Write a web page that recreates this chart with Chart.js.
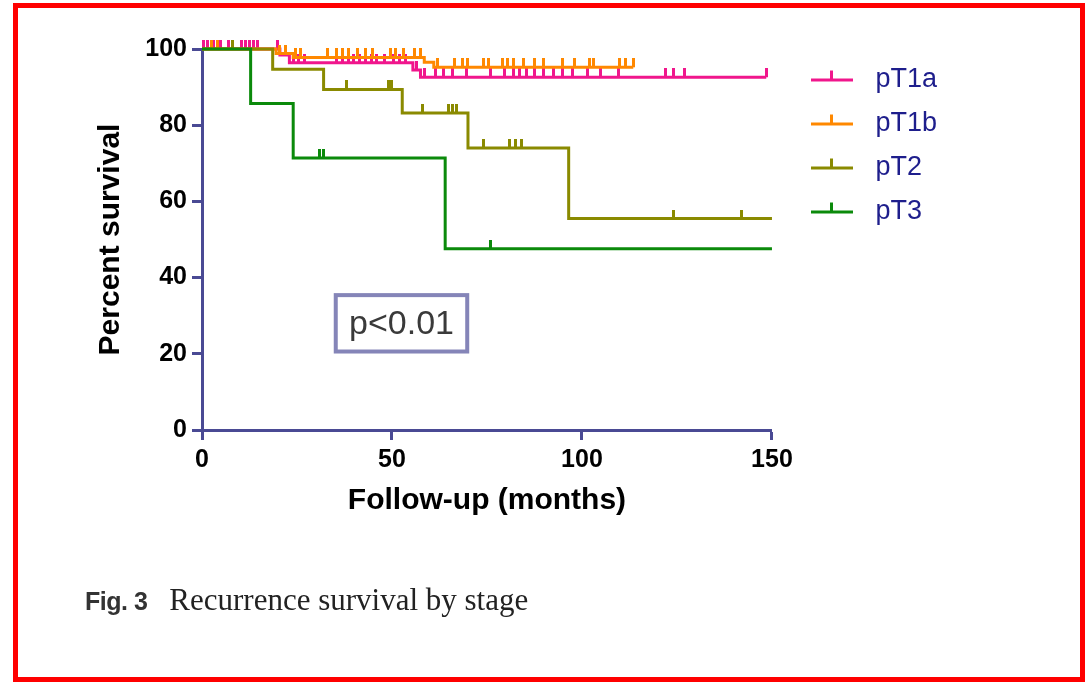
<!DOCTYPE html>
<html>
<head>
<meta charset="utf-8">
<script src="https://cdn.jsdelivr.net/npm/chart.js@4.4.0/dist/chart.umd.min.js"></script>
<style>
  html, body { margin: 0; padding: 0; background: #fff; }
  #frame { position: absolute; left: 13px; top: 3px; width: 1072px; height: 679px; border: 5px solid #ff0000; box-sizing: border-box; }
  #chart { position: absolute; left: 0; top: 0; }
  #caption { position: absolute; left: 85px; top: 582px; font-family: 'Liberation Serif', 'Times New Roman', serif; font-size: 31px; color: #222; white-space: nowrap; }
  #caption b { font-family: 'Liberation Sans Narrow', 'Liberation Sans', Arial, sans-serif; font-size: 25px; margin-right: 22px; color: #333; letter-spacing: -0.5px; }
</style>
</head>
<body>
<div id="frame"></div>
<canvas id="chart" width="1089" height="683"></canvas>
<div id="caption"><b>Fig. 3</b>Recurrence survival by stage</div>
<script>
// Datos (meses, % supervivencia)
const stageNames = ['pT1a', 'pT1b', 'pT2', 'pT3'];
const stageColors = ['#f0168c', '#ff8800', '#8a8a00', '#0b8a0b'];

const pT1aTimes = [0, 20.5, 23, 55.5, 57.5, 148.5];
const pT1aSurv = [100, 98.4, 96.4, 94.5, 92.6, 92.6];
const pT1aCensored = [0.5, 1.5, 3, 5, 7, 10.5, 11.5, 12.5, 13.5, 14.5, 20, 22, 24, 25.5, 27, 35.5, 37, 38.5,
  40, 41.5, 43, 44.5, 46, 48, 50.5, 52, 53.5, 56.5, 58.5, 61.5, 63.5, 66, 69.5, 76, 79.5, 82, 83.5, 85.5,
  87.5, 90, 92.5, 95, 97.5, 101.5, 105, 109.5, 122, 124, 127, 148.5];

const pT1bTimes = [0, 19.5, 24, 58.5, 61, 113.5];
const pT1bSurv = [100, 98.8, 97.8, 96.5, 95.2, 95.2];
const pT1bCensored = [2.5, 4, 20.5, 22, 24.5, 26, 33, 35.5, 37, 38.5, 41, 43, 45, 49.5, 51, 53, 56, 57.5,
  62, 66.5, 68.5, 70, 74, 75.5, 79, 80.5, 82, 84.5, 87.5, 90, 95, 98, 102, 103, 110, 111.5, 113.5];

const pT2Times = [0, 18.6, 32, 52.7, 70, 96.5, 150];
const pT2Surv = [100, 94.7, 89.4, 83.2, 74.0, 55.5, 55.5];
const pT2Censored = [8, 38, 49, 50, 58, 65, 66, 67, 74, 81, 82.5, 84, 124, 142];

const pT3Times = [0, 12.8, 24, 64, 150];
const pT3Surv = [100, 85.7, 71.4, 47.6, 47.6];
const pT3Censored = [31, 32, 76];

const xTicksStep = 50;
const yTicksStep = 20;
const pLabel = 'p<0.01';

const axisColor = '#4a4a94';
const legendColor = '#1e1e8c';
const fontFamily = "'Liberation Sans', Arial, sans-serif";

const series = [
  { times: pT1aTimes, surv: pT1aSurv, censored: pT1aCensored, order: 7 },
  { times: pT1bTimes, surv: pT1bSurv, censored: pT1bCensored, order: 5 },
  { times: pT2Times, surv: pT2Surv, censored: pT2Censored, order: 3 },
  { times: pT3Times, surv: pT3Surv, censored: pT3Censored, order: 1 }
];

// nivel de la curva en el tiempo t (función escalonada)
function levelAt(times, surv, t) {
  let s = surv[0];
  for (let i = 0; i < times.length; i++) if (times[i] <= t) s = surv[i];
  return s;
}

// marca de censura: palito hacia arriba
function tickImage(color) {
  const c = document.createElement('canvas');
  c.width = 3; c.height = 18;
  const g = c.getContext('2d');
  g.fillStyle = color;
  g.fillRect(0, 0, 3, 9);
  return c;
}
function legendImage(color) {
  const c = document.createElement('canvas');
  c.width = 73; c.height = 20;
  const g = c.getContext('2d');
  g.fillStyle = color;
  g.fillRect(22, 9, 42, 3);
  g.fillRect(41, 1, 3, 9);
  return c;
}
const legendImages = stageColors.map(legendImage);

const datasets = [];
series.forEach((s, i) => {
  datasets.push({
    label: stageNames[i],
    data: s.times.map((t, k) => ({ x: t, y: s.surv[k] })),
    borderColor: stageColors[i],
    borderWidth: 3,
    stepped: 'before',
    pointRadius: 0,
    fill: false,
    clip: false,
    order: s.order
  });
});
series.forEach((s, i) => {
  datasets.push({
    label: stageNames[i] + ' censored',
    data: s.censored.map(t => ({ x: t, y: levelAt(s.times, s.surv, t) })),
    showLine: false,
    pointStyle: tickImage(stageColors[i]),
    pointRadius: 4,
    borderWidth: 0,
    clip: false,
    order: s.order - 1
  });
});

const pBoxPlugin = {
  id: 'pBox',
  afterDraw(chart) {
    const { x, y } = chart.scales;
    const ctx = chart.ctx;
    const l = x.getPixelForValue(35.2), r = x.getPixelForValue(69.8);
    const t = y.getPixelForValue(35.4), b = y.getPixelForValue(20.6);
    ctx.save();
    ctx.strokeStyle = '#8585b8';
    ctx.lineWidth = 4;
    ctx.strokeRect(l, t, r - l, b - t);
    ctx.fillStyle = '#3a3a3a';
    ctx.font = '34px ' + fontFamily;
    ctx.textAlign = 'center';
    ctx.textBaseline = 'middle';
    ctx.fillText(pLabel, (l + r) / 2, (t + b) / 2 + 1);
    ctx.restore();
  }
};

const ctx = document.getElementById('chart').getContext('2d');
const chart = new Chart(ctx, {
  type: 'line',
  data: { datasets },
  options: {
    responsive: false,
    animation: false,
    events: [],
    layout: { padding: { left: 89, top: 49, right: 142, bottom: 160 } },
    scales: {
      x: {
        type: 'linear', min: 0, max: 150,
        ticks: { stepSize: xTicksStep, color: '#000', padding: 5, font: { family: fontFamily, size: 25, weight: 'bold' } },
        grid: { drawOnChartArea: false, drawTicks: true, tickLength: 10, tickWidth: 3, tickColor: axisColor },
        border: { color: axisColor, width: 3 },
        title: { display: true, text: 'Follow-up (months)', color: '#000', padding: { top: 4, bottom: 4 }, font: { family: fontFamily, size: 30, weight: 'bold' } },
        afterFit: s => { s.height = 93; }
      },
      y: {
        type: 'linear', min: 0, max: 100,
        ticks: { stepSize: yTicksStep, color: '#000', padding: 5, font: { family: fontFamily, size: 25, weight: 'bold' } },
        grid: { drawOnChartArea: false, drawTicks: true, tickLength: 10, tickWidth: 3, tickColor: axisColor },
        border: { color: axisColor, width: 3 },
        title: { display: true, text: 'Percent survival', color: '#000', padding: { top: 4, bottom: 4 }, font: { family: fontFamily, size: 30, weight: 'bold' } },
        afterFit: s => { s.width = 113; }
      }
    },
    plugins: {
      tooltip: { enabled: false },
      legend: {
        position: 'right',
        align: 'start',
        labels: {
          usePointStyle: true,
          pointStyleWidth: 73,
          padding: 17,
          color: legendColor,
          font: { family: fontFamily, size: 27 },
          generateLabels: () => stageNames.map((n, i) => ({
            text: n, pointStyle: legendImages[i], fontColor: legendColor,
            hidden: false, datasetIndex: i, lineWidth: 0,
            strokeStyle: 'rgba(0,0,0,0)', fillStyle: 'rgba(0,0,0,0)'
          }))
        }
      }
    }
  },
  plugins: [pBoxPlugin]
});
</script>
</body>
</html>
